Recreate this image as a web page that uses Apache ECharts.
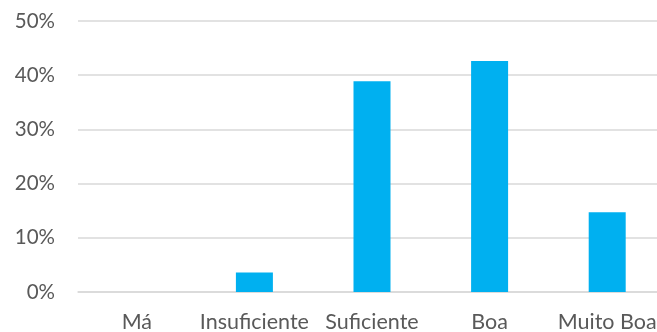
<!DOCTYPE html>
<html>
<head>
<meta charset="utf-8">
<script src="https://cdn.jsdelivr.net/npm/echarts@6/dist/echarts.min.js"></script>
<style>
  html, body { margin: 0; padding: 0; background: #fff; }
  #chart { width: 657px; height: 332px; }
</style>
</head>
<body>
<div id="chart"></div>
<script>
// Rating categories and share of answers (%)
const categories = ['Má', 'Insuficiente', 'Suficiente', 'Boa', 'Muito Boa'];
const shares = [0, 3.6, 38.9, 42.6, 14.7];

const chart = echarts.init(document.getElementById('chart'), null, { renderer: 'canvas' });
const xFont = { fontFamily: 'Lato', fontSize: 21.5, color: '#595959' };
const yFont = { fontFamily: 'Lato', fontSize: 20.5, color: '#595959' };

chart.setOption({
  animation: false,
  grid: { left: 78, top: 21, right: -9, bottom: 40, containLabel: false, outerBoundsMode: 'none' },
  xAxis: {
    type: 'category',
    data: categories,
    axisTick: { show: false },
    axisLine: { lineStyle: { color: '#d9d9d9', width: 1.5 } },
    axisLabel: Object.assign({ margin: 19, interval: 0 }, xFont)
  },
  yAxis: {
    type: 'value',
    min: 0,
    max: 50,
    interval: 10,
    axisLine: { show: false },
    axisTick: { show: false },
    splitLine: { lineStyle: { color: '#d9d9d9', width: 1.5 } },
    axisLabel: Object.assign({ margin: 23, formatter: '{value}%' }, yFont)
  },
  series: [{
    type: 'bar',
    data: shares,
    barWidth: 37,
    itemStyle: { color: '#00b0f0' }
  }]
});
</script>
</body>
</html>
